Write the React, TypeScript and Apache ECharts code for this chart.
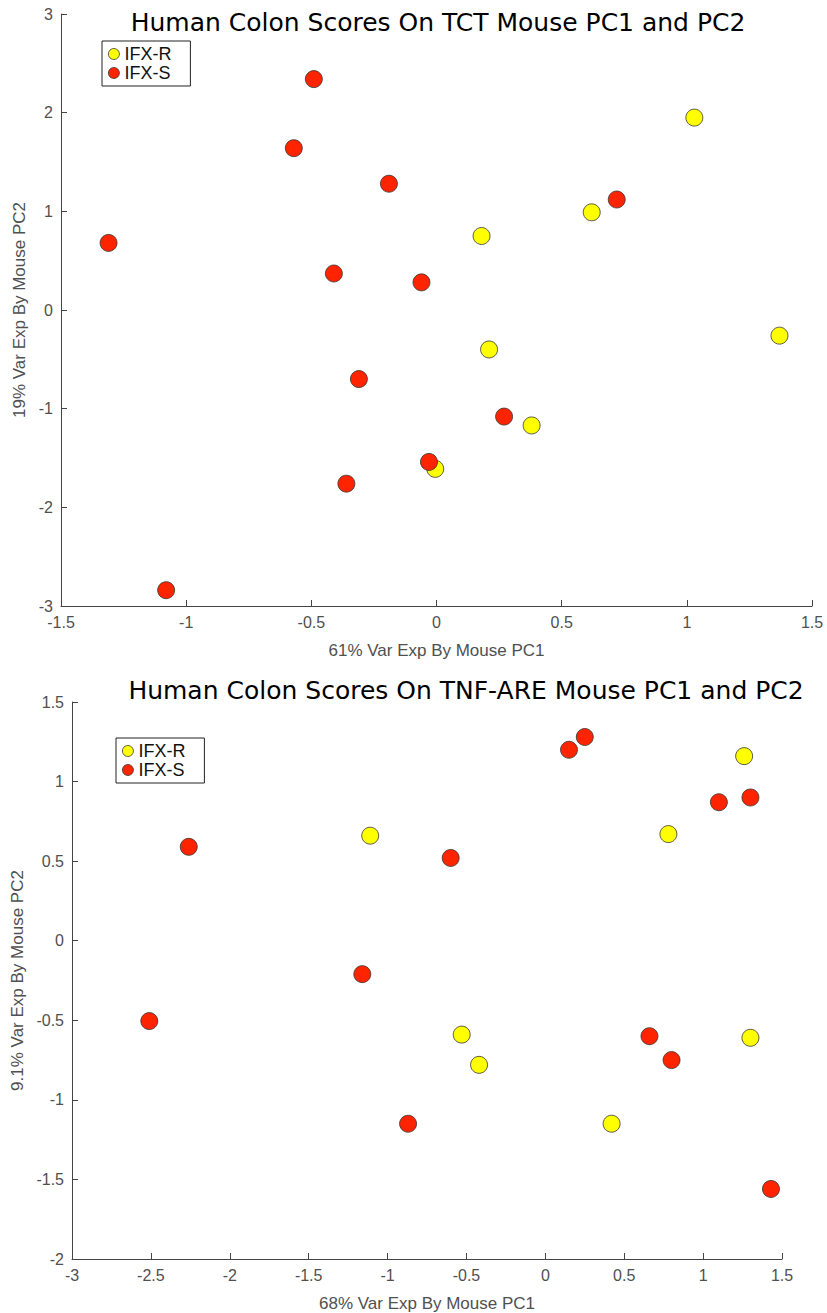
import React, { useEffect, useRef } from "react";
import * as echarts from "echarts";

// Top chart: TCT mouse PCs
const tctR: number[][] = [
  [1.03, 1.95], [0.62, 0.99], [0.18, 0.75], [0.21, -0.4], [1.37, -0.26], [0.38, -1.17], [-0.005, -1.61],
];
const tctS: number[][] = [
  [-0.49, 2.34], [-0.57, 1.64], [-0.19, 1.28], [-1.31, 0.68], [-0.41, 0.37], [-0.06, 0.28], [0.72, 1.12],
  [-0.31, -0.7], [0.27, -1.08], [-0.03, -1.54], [-0.36, -1.76], [-1.08, -2.84],
];
// Bottom chart: TNF-ARE mouse PCs
const tnfR: number[][] = [
  [1.26, 1.16], [0.78, 0.67], [-1.11, 0.66], [-0.53, -0.59], [-0.42, -0.78], [0.42, -1.15], [1.3, -0.61],
];
const tnfS: number[][] = [
  [0.25, 1.28], [0.15, 1.2], [1.1, 0.87], [1.3, 0.9], [-2.26, 0.59], [-0.6, 0.52], [-1.16, -0.21],
  [-2.51, -0.505], [0.66, -0.6], [0.8, -0.75], [-0.87, -1.15], [1.43, -1.56],
];

const titles = [
  "Human Colon Scores On TCT Mouse PC1 and PC2",
  "Human Colon Scores On TNF-ARE Mouse PC1 and PC2",
];
const xNames = ["61% Var Exp By Mouse PC1", "68% Var Exp By Mouse PC1"];
const yNames = ["19% Var Exp By Mouse PC2", "9.1% Var Exp By Mouse PC2"];
const groups = ["IFX-R", "IFX-S"];

const YELLOW = "#ffff00";
const RED = "#ff2400";
const FONT = "'Liberation Sans', Arial, Helvetica, sans-serif";
const TITLEFONT = "'DejaVu Sans', 'Liberation Sans', sans-serif";

function axisCommon() {
  return {
    axisLine: { show: true, onZero: false, lineStyle: { color: "#444", width: 1 } },
    axisTick: { show: true, inside: true, length: 6, lineStyle: { color: "#444" } },
    splitLine: { show: false },
    axisLabel: { color: "#505050", fontSize: 16, fontFamily: FONT },
    nameTextStyle: { color: "#505050", fontSize: 17, fontFamily: FONT },
    nameLocation: "middle" as const,
  };
}

function legendAt(left: number, top: number) {
  return {
    data: groups, orient: "vertical", left, top,
    borderColor: "#222", borderWidth: 1, padding: [4, 19, 4, 6],
    itemWidth: 11, itemHeight: 11, itemGap: 1, icon: "circle",
    itemStyle: { borderWidth: 0.8, borderColor: "#333" },
    textStyle: { fontSize: 18, lineHeight: 18, color: "#111", fontFamily: FONT },
  };
}

export default function App() {
  const ref = useRef<HTMLDivElement>(null);
  useEffect(() => {
    if (!ref.current) return;
    const chart = echarts.init(ref.current, null, { renderer: "svg" });
    const sym = (color: string) => ({
      color,
      opacity: 1,
      borderColor: "#333",
      borderWidth: 0.8,
    });
    chart.setOption({
      animation: false,
      backgroundColor: "#fff",
      textStyle: { fontFamily: FONT },
      grid: [
        { left: 61, right: 15, top: 14, height: 592 },
        { left: 72, right: 45, top: 702, height: 561 },
      ],
      xAxis: [
        { ...axisCommon(), gridIndex: 0, type: "value", min: -1.5, max: 1.5, interval: 0.5, name: xNames[0], nameGap: 36 },
        { ...axisCommon(), gridIndex: 1, type: "value", min: -3, max: 1.5, interval: 0.5, name: xNames[1], nameGap: 36 },
      ],
      yAxis: [
        { ...axisCommon(), gridIndex: 0, type: "value", min: -3, max: 3, interval: 1, name: yNames[0], nameGap: 31 },
        { ...axisCommon(), gridIndex: 1, type: "value", min: -2, max: 1.5, interval: 0.5, name: yNames[1], nameGap: 42 },
      ],
      legend: [legendAt(102, 41), legendAt(116, 738)],
      graphic: [
        { type: "text", x: 438, y: 22, style: { text: titles[0], fontSize: 25, fontFamily: TITLEFONT, fill: "#000", textAlign: "center", textVerticalAlign: "middle" } },
        { type: "text", x: 466, y: 690, style: { text: titles[1], fontSize: 25, fontFamily: TITLEFONT, fill: "#000", textAlign: "center", textVerticalAlign: "middle" } },
      ],
      series: [
        { type: "scatter", name: groups[0], xAxisIndex: 0, yAxisIndex: 0, data: tctR, symbolSize: 17, itemStyle: sym(YELLOW) },
        { type: "scatter", name: groups[1], xAxisIndex: 0, yAxisIndex: 0, data: tctS, symbolSize: 17, itemStyle: sym(RED) },
        { type: "scatter", name: groups[0], xAxisIndex: 1, yAxisIndex: 1, data: tnfR, symbolSize: 17, itemStyle: sym(YELLOW) },
        { type: "scatter", name: groups[1], xAxisIndex: 1, yAxisIndex: 1, data: tnfS, symbolSize: 17, itemStyle: sym(RED) },
      ],
    });
    return () => chart.dispose();
  }, []);
  return (
    <div
      ref={ref}
      style={{ position: "absolute", left: 0, top: 0, width: 827, height: 1313 }}
    />
  );
}
